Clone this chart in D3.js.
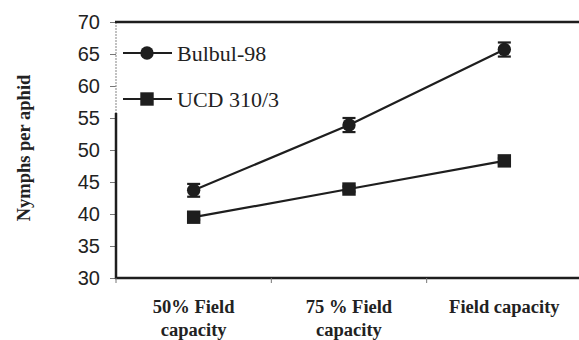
<!DOCTYPE html>
<html lang="en">
<head>
<meta charset="utf-8" />
<title>Nymphs per aphid</title>
<style>
  body { margin: 0; background: #fff; }
  svg { display: block; }
  .tick text { font-family: "Liberation Sans", Arial, sans-serif; font-size: 20px; fill: #222; }
  .ttl { font-family: "Liberation Serif", "Times New Roman", serif; font-weight: bold; fill: #222; }
  .leg { font-family: "Liberation Serif", "Times New Roman", serif; font-size: 22px; fill: #222; }
</style>
</head>
<body>
<svg width="579" height="340"></svg>
<script src="https://d3js.org/d3.v7.min.js"></script>
<script>
// categories (two-line labels)
var categories = ["50% Field capacity", "75 % Field capacity", "Field capacity"];
var catLines = [["50% Field", "capacity"], ["75 % Field", "capacity"], ["Field capacity"]];

// series
var seriesNames = ["Bulbul-98", "UCD 310/3"];
var bulbul = [43.7, 53.9, 65.7];
var bulbulErr = [1.0, 1.1, 1.1];
var ucd = [39.5, 43.9, 48.3];
var ucdErr = [0.4, 0.4, 0.4];

var yTicks = [30, 35, 40, 45, 50, 55, 60, 65, 70];

var svg = d3.select("svg"),
    pLeft = 116, pRight = 582, pTop = 22, pBottom = 278;

var x = d3.scaleBand().domain(categories).range([pLeft, pRight]);
var y = d3.scaleLinear().domain([30, 70]).range([pBottom, pTop]);

var ink = "#1e1e1e";

// y axis: thin grey upper part, thick black lower part (as in the scan)
var yAx = svg.append("g")
    .attr("transform", "translate(" + pLeft + ",0)")
    .call(d3.axisLeft(y).tickValues(yTicks).tickSize(6).tickPadding(10).tickFormat(d3.format("d")));
yAx.select(".domain").remove();
yAx.selectAll(".tick line").attr("stroke", "#777").attr("stroke-width", 1);

svg.append("line")
    .attr("x1", pLeft).attr("x2", pLeft)
    .attr("y1", pTop).attr("y2", y(55.8))
    .attr("stroke", "#999").attr("stroke-width", 1.2)
    .attr("stroke-dasharray", "2,1");
svg.append("line")
    .attr("x1", pLeft).attr("x2", pLeft)
    .attr("y1", y(55.8)).attr("y2", pBottom + 1)
    .attr("stroke", ink).attr("stroke-width", 2.5);

// top border
svg.append("line")
    .attr("x1", pLeft - 1).attr("x2", 579)
    .attr("y1", pTop).attr("y2", pTop)
    .attr("stroke", ink).attr("stroke-width", 2.5);

// x axis
var bounds = categories.map(function(c) { return x(c); }).concat([pRight]);
svg.append("line")
    .attr("x1", pLeft - 1).attr("x2", 579)
    .attr("y1", pBottom).attr("y2", pBottom)
    .attr("stroke", ink).attr("stroke-width", 2.5);
svg.selectAll(".xtick").data(bounds).enter().append("line")
    .attr("class", "xtick")
    .attr("x1", function(d) { return d; }).attr("x2", function(d) { return d; })
    .attr("y1", pBottom).attr("y2", pBottom + 5)
    .attr("stroke", "#777").attr("stroke-width", 1);

var xl = svg.selectAll(".xl").data(categories).enter().append("text")
    .attr("class", "ttl")
    .attr("text-anchor", "middle")
    .style("font-size", "18.5px")
    .attr("x", function(d) { return x(d) + x.bandwidth() / 2; })
    .attr("y", 313);
xl.selectAll("tspan").data(function(d, i) { return catLines[i]; }).enter().append("tspan")
    .attr("x", function() { var p = d3.select(this.parentNode).datum(); return x(p) + x.bandwidth() / 2; })
    .attr("dy", function(d, i) { return i === 0 ? 0 : 23; })
    .text(function(d) { return d; });

// y title
svg.append("text")
    .attr("class", "ttl")
    .attr("text-anchor", "middle")
    .style("font-size", "18.5px")
    .attr("transform", "translate(30,148) rotate(-90)")
    .text("Nymphs per aphid");

var cx = function(d, i) { return x(categories[i]) + x.bandwidth() / 2; };
var line = d3.line().x(cx).y(function(d) { return y(d); });

function drawSeries(vals, errs, shape) {
  svg.append("path")
      .datum(vals)
      .attr("fill", "none")
      .attr("stroke", ink)
      .attr("stroke-width", 2.2)
      .attr("d", line);

  var eb = svg.append("g").selectAll("g").data(vals).enter().append("g");
  eb.append("line")
      .attr("x1", cx).attr("x2", cx)
      .attr("y1", function(d, i) { return y(d - errs[i]); })
      .attr("y2", function(d, i) { return y(d + errs[i]); })
      .attr("stroke", ink).attr("stroke-width", 2);
  [-1, 1].forEach(function(s) {
    eb.append("line")
        .attr("x1", function(d, i) { return cx(d, i) - 6.5; })
        .attr("x2", function(d, i) { return cx(d, i) + 6.5; })
        .attr("y1", function(d, i) { return y(d + s * errs[i]); })
        .attr("y2", function(d, i) { return y(d + s * errs[i]); })
        .attr("stroke", ink).attr("stroke-width", 2.2);
  });

  var m = svg.append("g").selectAll("path").data(vals).enter().append("path")
      .attr("fill", ink)
      .attr("transform", function(d, i) { return "translate(" + cx(d, i) + "," + y(d) + ")"; });
  if (shape === "circle") m.attr("d", d3.symbol(d3.symbolCircle, 140));
  else m.attr("d", d3.symbol(d3.symbolSquare, 180));
}

drawSeries(bulbul, bulbulErr, "circle");
drawSeries(ucd, ucdErr, "square");

// legend
var legY = [53, 99];
var leg = svg.selectAll(".legi").data(seriesNames).enter().append("g")
    .attr("transform", function(d, i) { return "translate(0," + legY[i] + ")"; });
leg.append("line")
    .attr("x1", 123).attr("x2", 172)
    .attr("stroke", ink).attr("stroke-width", 2.2);
leg.append("path")
    .attr("fill", ink)
    .attr("transform", "translate(147,0)")
    .attr("d", function(d, i) { return i === 0 ? d3.symbol(d3.symbolCircle, 140)() : d3.symbol(d3.symbolSquare, 180)(); });
leg.append("text")
    .attr("class", "leg")
    .attr("x", 177)
    .attr("y", 7.5)
    .text(function(d) { return d; });
</script>
</body>
</html>
